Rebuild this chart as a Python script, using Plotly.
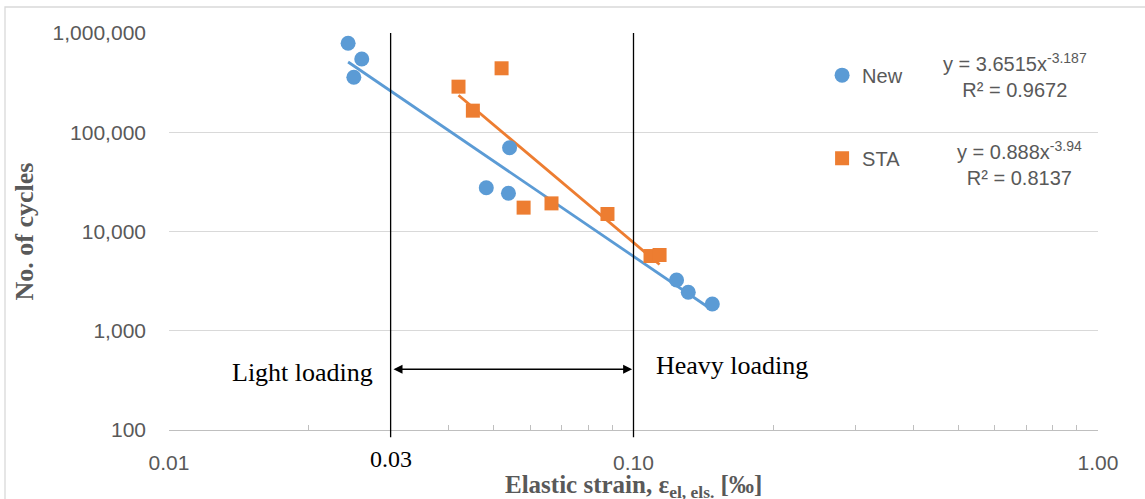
import numpy as np
import plotly.graph_objects as go

# ---- data ----
new_strain = [0.0243, 0.0260, 0.0250, 0.0541, 0.0482, 0.0538, 0.1238, 0.1312, 0.1478]
new_cycles = [787000, 547000, 358000, 69900, 27600, 24300, 3250, 2440, 1860]

sta_strain = [0.0420, 0.0520, 0.0451, 0.0580, 0.0666, 0.0879, 0.1088, 0.1138]
sta_cycles = [288000, 441000, 165000, 17400, 19200, 15000, 5660, 5800]

new_fit = (3.6515, -3.187, 0.9672)
sta_fit = (0.888, -3.94, 0.8137)

limit_lines = [0.03, 0.10]
x_tickvals = [0.01, 0.1, 1.0]
x_ticktext = ["0.01", "0.10", "1.00"]
x_minor = [0.02, 0.03, 0.04, 0.05, 0.06, 0.07, 0.08, 0.09,
           0.2, 0.3, 0.4, 0.5, 0.6, 0.7, 0.8, 0.9]
y_tickvals = [100, 1000, 10000, 100000, 1000000]
y_ticktext = ["100", "1,000", "10,000", "100,000", "1,000,000"]

BLUE = "#5B9BD5"
ORANGE = "#ED7D31"
GRAY_TXT = "#595959"
GRID = "#D9D9D9"
SANS = "Liberation Sans, Arial, sans-serif"
SERIF = "Liberation Serif, Times New Roman, serif"

ARROW_Y = 410  # cycles level of the loading arrow

def trend(coef, exp, xs):
    xx = np.geomspace(min(xs), max(xs), 50)
    return xx, coef * xx ** exp

fig = go.Figure()

# trendlines
tx, ty = trend(new_fit[0], new_fit[1], new_strain)
fig.add_trace(go.Scatter(x=tx, y=ty, mode="lines", line=dict(color=BLUE, width=2.8),
                         showlegend=False, hoverinfo="skip"))
tx, ty = trend(sta_fit[0], sta_fit[1], sta_strain)
fig.add_trace(go.Scatter(x=tx, y=ty, mode="lines", line=dict(color=ORANGE, width=2.8),
                         showlegend=False, hoverinfo="skip"))

fig.add_trace(go.Scatter(x=new_strain, y=new_cycles, mode="markers", name="New",
                         legendgroup="new",
                         marker=dict(symbol="circle", size=15, color=BLUE)))
fig.add_trace(go.Scatter(x=sta_strain, y=sta_cycles, mode="markers", name="STA",
                         legendgroup="sta",
                         marker=dict(symbol="square", size=14, color=ORANGE)))

# vertical limit lines (data x, paper y)
for xv in limit_lines:
    fig.add_shape(type="line", xref="x", yref="paper", x0=xv, x1=xv, y0=-0.018, y1=1,
                  line=dict(color="black", width=1.3))

# double arrow between limits
fig.add_annotation(x=np.log10(limit_lines[1]) - 0.003, y=np.log10(ARROW_Y),
                   ax=np.log10(limit_lines[0]) + 0.003, ay=np.log10(ARROW_Y),
                   xref="x", yref="y", axref="x", ayref="y", text="",
                   showarrow=True, arrowhead=2, arrowside="end+start", arrowsize=1.2,
                   arrowwidth=1.5, arrowcolor="black")

fig.add_annotation(x=np.log10(0.03), y=np.log10(ARROW_Y), xref="x", yref="y", text="Light loading",
                   showarrow=False, xanchor="right", xshift=-16, yshift=-3,
                   font=dict(family=SERIF, size=26, color="black"))
fig.add_annotation(x=np.log10(0.1), y=np.log10(ARROW_Y), xref="x", yref="y", text="Heavy loading",
                   showarrow=False, xanchor="left", xshift=20, yshift=4,
                   font=dict(family=SERIF, size=26, color="black"))
fig.add_annotation(x=np.log10(0.03), y=0, xref="x", yref="paper", text="0.03",
                   showarrow=False, yanchor="top", yshift=-14,
                   font=dict(family=SERIF, size=24, color="black"))

# x-axis title
fig.add_annotation(x=0.5, y=-(486 - 430) / 397, xref="paper", yref="paper",
                   text="Elastic strain, ε<sub>el, els.</sub> [‰]", showarrow=False,
                   xanchor="center", yanchor="middle",
                   font=dict(family=SERIF, size=25, color=GRAY_TXT, weight="bold"))

# trendline equations
fig.add_annotation(x=0.9107, y=6 - (75 - 33) / 99.25, xref="paper", yref="y",
                   text=f"y = {new_fit[0]}x<sup>{new_fit[1]}</sup><br>R² = {new_fit[2]}",
                   showarrow=False, align="center", xanchor="center", yanchor="middle",
                   font=dict(family=SANS, size=20, color=GRAY_TXT))
fig.add_annotation(x=0.9150, y=6 - (163 - 33) / 99.25, xref="paper", yref="y",
                   text=f"y = {sta_fit[0]}x<sup>{sta_fit[1]}</sup><br>R² = {sta_fit[2]}",
                   showarrow=False, align="center", xanchor="center", yanchor="middle",
                   font=dict(family=SANS, size=20, color=GRAY_TXT))

fig.update_layout(
    width=1145, height=499,
    margin=dict(l=169, r=47, t=33, b=69, autoexpand=False),
    paper_bgcolor="white", plot_bgcolor="white",
    showlegend=True,
    legend=dict(x=0.703, y=0.943, xanchor="left", yanchor="top",
                font=dict(family=SANS, size=20, color=GRAY_TXT),
                tracegroupgap=54, traceorder="grouped", bgcolor="rgba(0,0,0,0)"),
    xaxis=dict(type="log", range=[-2, 0], tickvals=x_tickvals, ticktext=x_ticktext,
               automargin=False,
               showgrid=True, gridcolor=GRID, gridwidth=1.3,
               showline=True, linecolor="#BFBFBF", linewidth=1.3,
               ticks="", ticklabelstandoff=14,
               tickfont=dict(family=SANS, size=21, color=GRAY_TXT),
               minor=dict(tickmode="array", tickvals=x_minor, ticks="inside", ticklen=5,
                          tickcolor="#BFBFBF", tickwidth=1, showgrid=False),
               zeroline=False),
    yaxis=dict(type="log", range=[2, 6], tickvals=y_tickvals, ticktext=y_ticktext,
               automargin=False,
               showgrid=True, gridcolor=GRID, gridwidth=1.3,
               showline=False, ticks="", ticklabelstandoff=22,
               tickfont=dict(family=SANS, size=21, color=GRAY_TXT),
               zeroline=False,
               title=dict(text="No. of cycles", standoff=11,
                          font=dict(family=SERIF, size=26, color=GRAY_TXT, weight="bold"))),
)

# outer chart border
fig.add_shape(type="rect", xref="paper", yref="paper",
              x0=-(169 - 5) / 929, x1=(1150 - 169) / 929, y0=-(505 - 430) / 397, y1=1 + (33 - 7) / 397,
              line=dict(color="#D9D9D9", width=1.3), layer="below")

fig.write_html("out.html", config={"displayModeBar": False},
               post_script="document.body.style.margin='0';document.body.style.overflow='hidden';")
